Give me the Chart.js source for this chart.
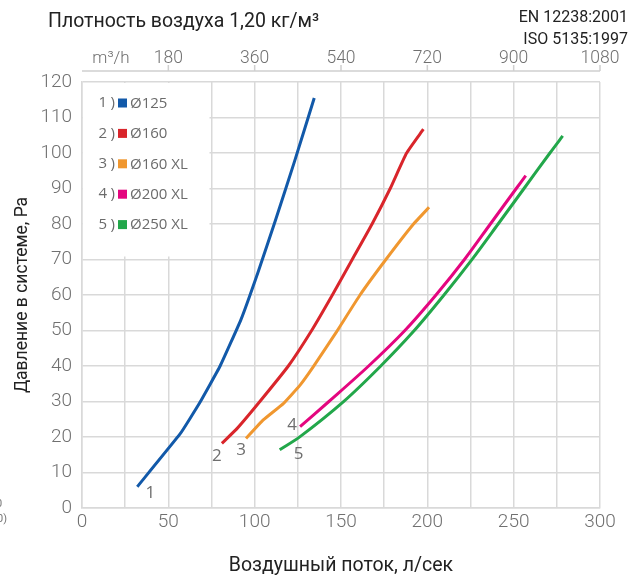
<!DOCTYPE html>
<html>
<head>
<meta charset="utf-8">
<script src="https://cdn.jsdelivr.net/npm/chart.js@4.4.0/dist/chart.umd.min.js"></script>
<style>
  html, body { margin: 0; padding: 0; background: #fff; }
  #wrap { position: relative; width: 640px; height: 579px; overflow: hidden; }
  canvas { position: absolute; left: 0; top: 0; }
  .txt { position: absolute; font-family: Roboto, sans-serif; white-space: nowrap; }
</style>
</head>
<body>
<div id="wrap">
  <canvas id="chart" width="640" height="579"></canvas>
  <div class="txt" style="left:48px;top:9px;font-size:19.5px;color:#222;">Плотность воздуха 1,20 кг/м³</div>
  <div class="txt" style="right:12px;top:6px;font-size:16px;line-height:22px;color:#222;text-align:right;">EN 12238:2001<br>ISO 5135:1997</div>
  <div class="txt" style="left:-4px;top:497px;font-size:11px;color:#777;">0</div>
  <div class="txt" style="left:-3px;top:512px;font-size:11px;color:#777;">0)</div>
</div>
<script>
// diameters shown in the legend
const series = ['Ø125', 'Ø160', 'Ø160 XL', 'Ø200 XL', 'Ø250 XL'];
const colors = ['#1259a9', '#d9252b', '#f0972f', '#e4067f', '#22a74a'];

// air flow, l/s
const flow125 = [32, 57, 68, 80, 92, 102, 112, 123, 134.5];
const flow160 = [81, 90, 103, 119.5, 133, 145, 156.5, 168, 178.5, 188, 197.7];
const flow160xl = [95, 105, 116.6, 126.3, 134, 147.5, 161, 176, 192, 201];
const flow200xl = [126.3, 143, 166, 187, 205, 221.5, 236.5, 251.5, 257];
const flow250xl = [114.5, 126.3, 151.3, 172.6, 191.9, 209.3, 225.7, 241, 256, 271, 278.4];

// pressure, Pa
const pa125 = [6, 21, 29.5, 40, 53, 66.5, 81, 97.5, 115.5];
const pa160 = [18.2, 22.5, 30, 40, 50, 60, 70, 80, 90, 100, 106.7];
const pa160xl = [19.6, 24.8, 29.4, 34.6, 39.8, 49.7, 60, 70, 80, 84.7];
const pa200xl = [22.9, 30, 40, 50, 60, 70, 80, 90, 93.6];
const pa250xl = [16.4, 20.1, 29.9, 39.8, 49.7, 59.8, 69.9, 80, 90, 100, 104.8];

// top axis ticks, m3/h
const m3hTicks = [180, 360, 540, 720, 900, 1080];

const flows = [flow125, flow160, flow160xl, flow200xl, flow250xl];
const pressures = [pa125, pa160, pa160xl, pa200xl, pa250xl];
const tensions = [0.1, 0.15, 0.1, 0.3, 0.3];

const datasets = series.map((name, i) => ({
  label: name,
  data: flows[i].map((x, j) => ({ x: x, y: pressures[i][j] })),
  borderColor: colors[i],
  backgroundColor: colors[i],
  borderWidth: 3,
  pointRadius: 0,
  tension: tensions[i],
  borderJoinStyle: 'round',
  fill: false,
}));

const gridColor = '#d9d9d9';
const tickColor = '#707070';
const tickFont = { family: 'Roboto', size: 19, weight: '300' };

// white box with the numbered legend, drawn over the grid
const legendBox = {
  id: 'legendBox',
  beforeDatasetsDraw(chart) {
    const { ctx, chartArea, scales } = chart;
    const right = scales.x.getPixelForValue(75) - 2;
    const bottom = scales.y.getPixelForValue(70) - 3;
    ctx.save();
    ctx.fillStyle = '#fff';
    ctx.fillRect(chartArea.left + 1, chartArea.top + 1, right - chartArea.left - 1, bottom - chartArea.top - 1);
    ctx.font = '15px "Open Sans"';
    ctx.textBaseline = 'middle';
    chart.data.datasets.forEach((ds, i) => {
      const y = chartArea.top + 21 + i * 30.4;
      ctx.fillStyle = '#6b6b6b';
      ctx.textAlign = 'right';
      ctx.fillText(String(i + 1), 107, y);
      ctx.fillText(')', 115, y);
      ctx.fillStyle = ds.borderColor;
      ctx.fillRect(118, y - 4.5, 9, 9);
      ctx.fillStyle = '#6b6b6b';
      ctx.textAlign = 'left';
      ctx.fillText(ds.label, 130, y + 0.5);
    });
    ctx.restore();
  }
};

// numbers at the start of each curve
const curveNumbers = {
  id: 'curveNumbers',
  afterDatasetsDraw(chart) {
    const { ctx, scales } = chart;
    const offsets = [[13, 6], [-5, 13], [-5, 12], [-8, -2], [19, 4]];
    ctx.save();
    ctx.font = '17px "Open Sans"';
    ctx.fillStyle = '#6e6e6e';
    ctx.textAlign = 'center';
    ctx.textBaseline = 'middle';
    chart.data.datasets.forEach((ds, i) => {
      const p = ds.data[0];
      const px = scales.x.getPixelForValue(p.x) + offsets[i][0];
      const py = scales.y.getPixelForValue(p.y) + offsets[i][1];
      ctx.fillText(String(i + 1), px, py);
    });
    ctx.restore();
  }
};

// top m3/h axis line with its small ticks, lifted above the plot
const topAxis = {
  id: 'topAxis',
  afterDraw(chart) {
    const { ctx, chartArea, scales } = chart;
    const s = scales.x2;
    const y = chartArea.top - 11;
    ctx.save();
    ctx.strokeStyle = '#d0d0d0';
    ctx.lineWidth = 1.5;
    ctx.beginPath();
    ctx.moveTo(chartArea.left, y);
    ctx.lineTo(chartArea.right, y);
    m3hTicks.forEach(v => {
      const x = s.getPixelForValue(v);
      ctx.moveTo(x, y);
      ctx.lineTo(x, y - 6);
    });
    ctx.stroke();
    ctx.font = '300 17px Roboto';
    ctx.fillStyle = tickColor;
    ctx.textAlign = 'center';
    ctx.textBaseline = 'middle';
    ctx.fillText('m³/h', chartArea.left + 29, chartArea.top - 23);
    ctx.restore();
  }
};

new Chart(document.getElementById('chart'), {
  type: 'line',
  data: { datasets },
  plugins: [legendBox, curveNumbers, topAxis],
  options: {
    responsive: false,
    animation: false,
    layout: { padding: { left: 0, right: 40, top: 0, bottom: 0 } },
    plugins: {
      legend: { display: false },
      tooltip: { enabled: false }
    },
    scales: {
      x: {
        type: 'linear',
        position: 'bottom',
        min: 0,
        max: 300,
        afterFit: s => { s.height = 71; },
        ticks: {
          stepSize: 25,
          autoSkip: false,
          maxRotation: 0,
          padding: 3,
          color: tickColor,
          font: tickFont,
          callback: v => (v % 50 === 0 ? v : '')
        },
        grid: { color: gridColor, lineWidth: 1.5, drawTicks: false },
        border: { color: gridColor, width: 1.5 },
        title: {
          display: true,
          text: 'Воздушный поток, л/сек',
          color: '#222',
          font: { family: 'Roboto', size: 19.5 },
          padding: { top: 0, bottom: 1 }
        }
      },
      x2: {
        type: 'linear',
        position: 'top',
        min: 0,
        max: 1080,
        afterFit: s => { s.height = 82; },
        ticks: {
          stepSize: 180,
          autoSkip: false,
          maxRotation: 0,
          padding: 13,
          color: tickColor,
          font: { family: 'Roboto', size: 17.5, weight: '300' },
          callback: v => (m3hTicks.includes(v) ? v : '')
        },
        grid: { display: false, drawTicks: false },
        border: { display: false }
      },
      y: {
        min: 0,
        max: 120,
        afterFit: s => { s.width = 82; },
        ticks: {
          stepSize: 10,
          padding: 10,
          color: tickColor,
          font: tickFont
        },
        grid: { color: gridColor, lineWidth: 1.5, drawTicks: false },
        border: { color: gridColor, width: 1.5 },
        title: {
          display: true,
          text: 'Давление в системе, Pa',
          color: '#222',
          font: { family: 'Roboto', size: 17.5 },
          padding: { top: 12, bottom: 0 }
        }
      }
    }
  }
});
</script>
</body>
</html>
